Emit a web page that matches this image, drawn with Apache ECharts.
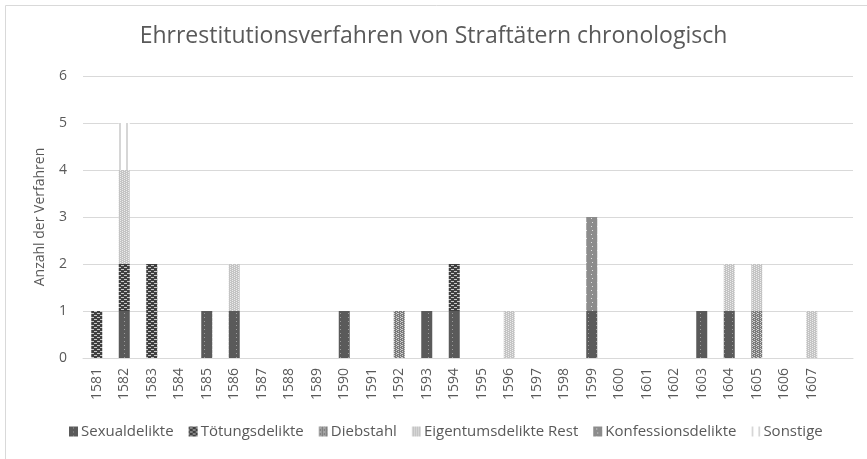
<!DOCTYPE html>
<html><head><meta charset="utf-8">
<script src="https://cdn.jsdelivr.net/npm/echarts@6/dist/echarts.min.js"></script>
<style>html,body{margin:0;padding:0;background:#fff}#c{width:867px;height:459px}</style>
</head><body><div id="c"></div>
<script>
const categories = ['1581','1582','1583','1584','1585','1586','1587','1588','1589','1590','1591','1592','1593','1594','1595','1596','1597','1598','1599','1600','1601','1602','1603','1604','1605','1606','1607',''];
const sexualdelikte      = [0,1,0,0,1,1,0,0,0,1,0,0,1,1,0,0,0,0,1,0,0,0,1,1,0,0,0,0];
const toetungsdelikte    = [1,1,2,0,0,0,0,0,0,0,0,0,0,1,0,0,0,0,0,0,0,0,0,0,0,0,0,0];
const diebstahl          = [0,0,0,0,0,0,0,0,0,0,0,1,0,0,0,0,0,0,0,0,0,0,0,0,1,0,0,0];
const eigentumRest       = [0,2,0,0,0,1,0,0,0,0,0,0,0,0,0,1,0,0,0,0,0,0,0,1,1,0,1,0];
const konfessionsdelikte = [0,0,0,0,0,0,0,0,0,0,0,0,0,0,0,0,0,0,2,0,0,0,0,0,0,0,0,0];
const sonstige           = [0,1,0,0,0,0,0,0,0,0,0,0,0,0,0,0,0,0,0,0,0,0,0,0,0,0,0,0];
const yTicks = [0,1,2,3,4,5,6];

function pat(w, h, bg, fg, pts) {
  const c = document.createElement('canvas');
  c.width = w; c.height = h;
  const g = c.getContext('2d');
  g.fillStyle = bg; g.fillRect(0, 0, w, h);
  g.fillStyle = fg;
  pts.forEach(p => g.fillRect(p[0], p[1], p[2] || 1, p[3] || 1));
  return { image: c, repeat: 'repeat' };
}
const P = {
  sex: pat(8, 8, '#5a5a5a', '#9c9c9c', [[4,1],[4,5]]),
  toet: pat(6, 4, '#404040', '#c8c8c8', [[1,1,3,1],[4,3,2,1],[0,3,1,1]]),
  dieb: pat(4, 4, '#7a7a7a', '#d0d0d0', [[0,0],[2,1],[0,2],[2,3],[1,1]]),
  eig: pat(4, 4, '#c4c4c4', '#ececec', [[0,0],[2,1],[0,2],[2,3]]),
  konf: pat(6, 8, '#8c8c8c', '#e0e0e0', [[3,2],[4,6]]),
  sons: pat(7, 1, '#ffffff', '#d6d6d6', [[0,0,2,1]])
};

const names = ['Sexualdelikte','Tötungsdelikte','Diebstahl','Eigentumsdelikte Rest','Konfessionsdelikte','Sonstige'];
const datas = [sexualdelikte, toetungsdelikte, diebstahl, eigentumRest, konfessionsdelikte, sonstige];
const fills = [P.sex, P.toet, P.dieb, P.eig, P.konf, P.sons];

const FONT = '"Open Sans", sans-serif';
const chart = echarts.init(document.getElementById('c'), null, {renderer: 'canvas'});
chart.setOption({
  animation: false,
  textStyle: {fontFamily: FONT},
  title: {
    text: 'Ehrrestitutionsverfahren von Straftätern chronologisch',
    left: 'center', top: 20,
    textStyle: {fontFamily: FONT, fontSize: 23, fontWeight: 'normal', color: '#595959'}
  },
  graphic: [{type: 'rect', shape: {x: 5.5, y: 5.5, width: 900, height: 500}, style: {fill: 'none', stroke: '#d9d9d9', lineWidth: 1}, silent: true}],
  legend: {
    bottom: 15, left: 64,
    icon: 'rect', itemWidth: 9, itemHeight: 10, itemGap: 15,
    textStyle: {fontFamily: FONT, fontSize: 15, color: '#595959', padding: [0,0,0,-2]},
    data: names
  },
  grid: {left: 83, right: 14, top: 76, bottom: 101, containLabel: false},
  xAxis: {
    type: 'category', data: categories,
    axisLine: {lineStyle: {color: '#d9d9d9'}},
    axisTick: {show: false},
    axisLabel: {rotate: 90, interval: 0, color: '#595959', fontSize: 14, fontFamily: FONT, margin: 10}
  },
  yAxis: {
    type: 'value', min: yTicks[0], max: yTicks[yTicks.length-1], interval: 1,
    name: 'Anzahl der Verfahren', nameLocation: 'middle', nameGap: 36, nameRotate: 90,
    nameTextStyle: {fontFamily: FONT, fontSize: 14, color: '#595959'},
    axisLine: {show: false}, axisTick: {show: false},
    axisLabel: {color: '#595959', fontSize: 14, fontFamily: FONT, margin: 16},
    splitLine: {lineStyle: {color: '#d9d9d9'}}
  },
  series: names.map((n, i) => ({
    name: n, type: 'bar', stack: 'all', data: datas[i], barWidth: 11,
    itemStyle: {color: fills[i]}
  }))
});
</script></body></html>
